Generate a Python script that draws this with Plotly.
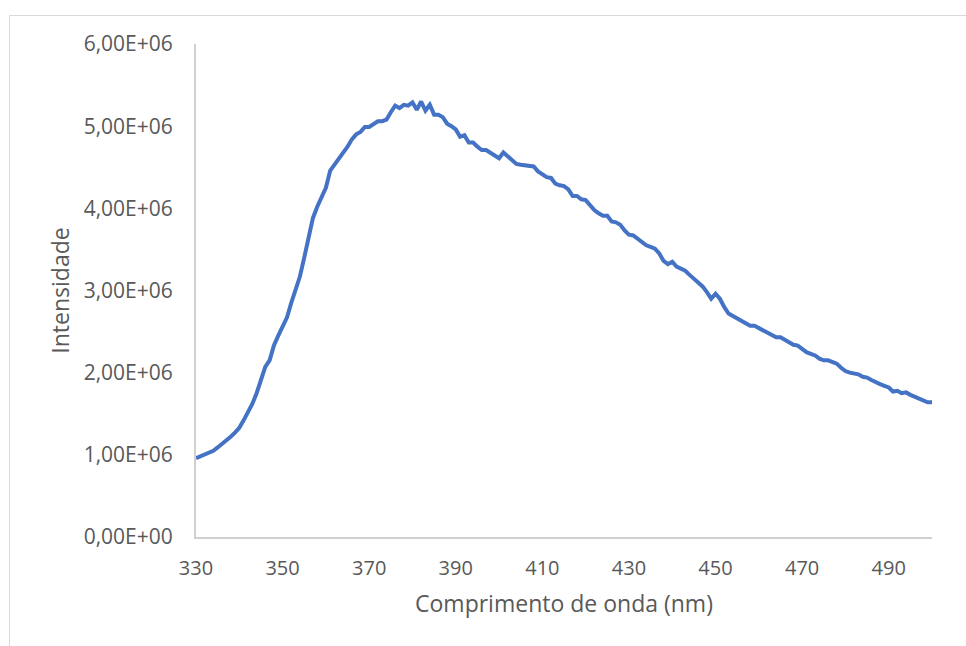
import plotly.graph_objects as go

# Emission spectrum: wavelength (nm) and intensity (x1e6 counts)
wavelength = list(range(330, 501))
intensity_e6 = [
    0.96, 0.98, 1.00, 1.02, 1.05, 1.09, 1.13, 1.17, 1.22, 1.27,   # 330-339
    1.33, 1.42, 1.52, 1.62, 1.75, 1.93, 2.07, 2.15, 2.33, 2.45,   # 340-349
    2.57, 2.67, 2.85, 3.02, 3.17, 3.40, 3.66, 3.88, 4.02, 4.14,   # 350-359
    4.25, 4.46, 4.53, 4.60, 4.67, 4.75, 4.84, 4.90, 4.93, 4.99,   # 360-369
    4.99, 5.03, 5.06, 5.06, 5.08, 5.17, 5.25, 5.22, 5.26, 5.25,   # 370-379
    5.29, 5.20, 5.30, 5.19, 5.26, 5.14, 5.14, 5.11, 5.03, 5.00,   # 380-389
    4.96, 4.87, 4.89, 4.80, 4.80, 4.75, 4.71, 4.71, 4.68, 4.65,   # 390-399
    4.61, 4.68, 4.63, 4.58, 4.54, 4.53, 4.52, 4.51, 4.51, 4.45,   # 400-409
    4.41, 4.38, 4.37, 4.30, 4.28, 4.27, 4.23, 4.15, 4.15, 4.11,   # 410-419
    4.10, 4.04, 3.98, 3.94, 3.91, 3.91, 3.84, 3.83, 3.80, 3.73,   # 420-429
    3.68, 3.67, 3.63, 3.58, 3.55, 3.53, 3.51, 3.45, 3.36, 3.32,   # 430-439
    3.35, 3.29, 3.26, 3.24, 3.19, 3.14, 3.10, 3.05, 2.98, 2.90,   # 440-449
    2.96, 2.90, 2.80, 2.72, 2.69, 2.66, 2.63, 2.59, 2.57, 2.57,   # 450-459
    2.54, 2.51, 2.48, 2.45, 2.43, 2.43, 2.40, 2.36, 2.34, 2.33,   # 460-469
    2.29, 2.25, 2.23, 2.21, 2.17, 2.15, 2.15, 2.13, 2.11, 2.06,   # 470-479
    2.02, 2.00, 1.99, 1.98, 1.95, 1.94, 1.91, 1.88, 1.86, 1.84,   # 480-489
    1.82, 1.77, 1.78, 1.75, 1.76, 1.73, 1.71, 1.69, 1.67, 1.64,   # 490-499
    1.64,                                                          # 500
]
intensity = [v * 1e6 for v in intensity_e6]

x_ticks = list(range(330, 491, 20))
y_ticks = [0, 1e6, 2e6, 3e6, 4e6, 5e6, 6e6]
y_tick_labels = ["0,00E+00", "1,00E+06", "2,00E+06", "3,00E+06",
                 "4,00E+06", "5,00E+06", "6,00E+06"]

FONT = "Open Sans"
TEXT = "#595959"
AXIS = "#d0d0d0"

fig = go.Figure()
fig.add_trace(go.Scatter(
    x=wavelength, y=intensity, mode="lines",
    line=dict(color="#4472C4", width=4),
    hoverinfo="x+y", showlegend=False,
))

# chart-area frame
fig.add_shape(type="rect", xref="paper", yref="paper",
              x0=-0.2534, x1=1.2, y0=-0.4, y1=1.0578,
              line=dict(color="#d9d9d9", width=1), fillcolor="rgba(0,0,0,0)",
              layer="below")

fig.update_layout(
    width=966, height=646,
    margin=dict(l=196, r=34, t=44, b=109),
    paper_bgcolor="white", plot_bgcolor="white",
    font=dict(family=FONT, color=TEXT),
    xaxis=dict(
        range=[330, 500], tickvals=x_ticks, ticktext=[str(v) for v in x_ticks],
        showgrid=False, zeroline=False, showline=True, linecolor=AXIS, linewidth=2,
        ticks="", ticklabelstandoff=12,
        tickfont=dict(family=FONT, size=20, color=TEXT),
        title=dict(text="Comprimento de onda (nm)",
                   font=dict(family=FONT, size=23, color=TEXT), standoff=16),
    ),
    yaxis=dict(
        range=[0, 6e6], tickvals=y_ticks, ticktext=y_tick_labels,
        showgrid=False, zeroline=False, showline=True, linecolor=AXIS, linewidth=2,
        ticks="", ticklabelstandoff=17,
        tickfont=dict(family=FONT, size=21, color=TEXT),
        title=dict(text="Intensidade",
                   font=dict(family=FONT, size=23, color=TEXT), standoff=8),
    ),
)

fig.write_html("out.html")
